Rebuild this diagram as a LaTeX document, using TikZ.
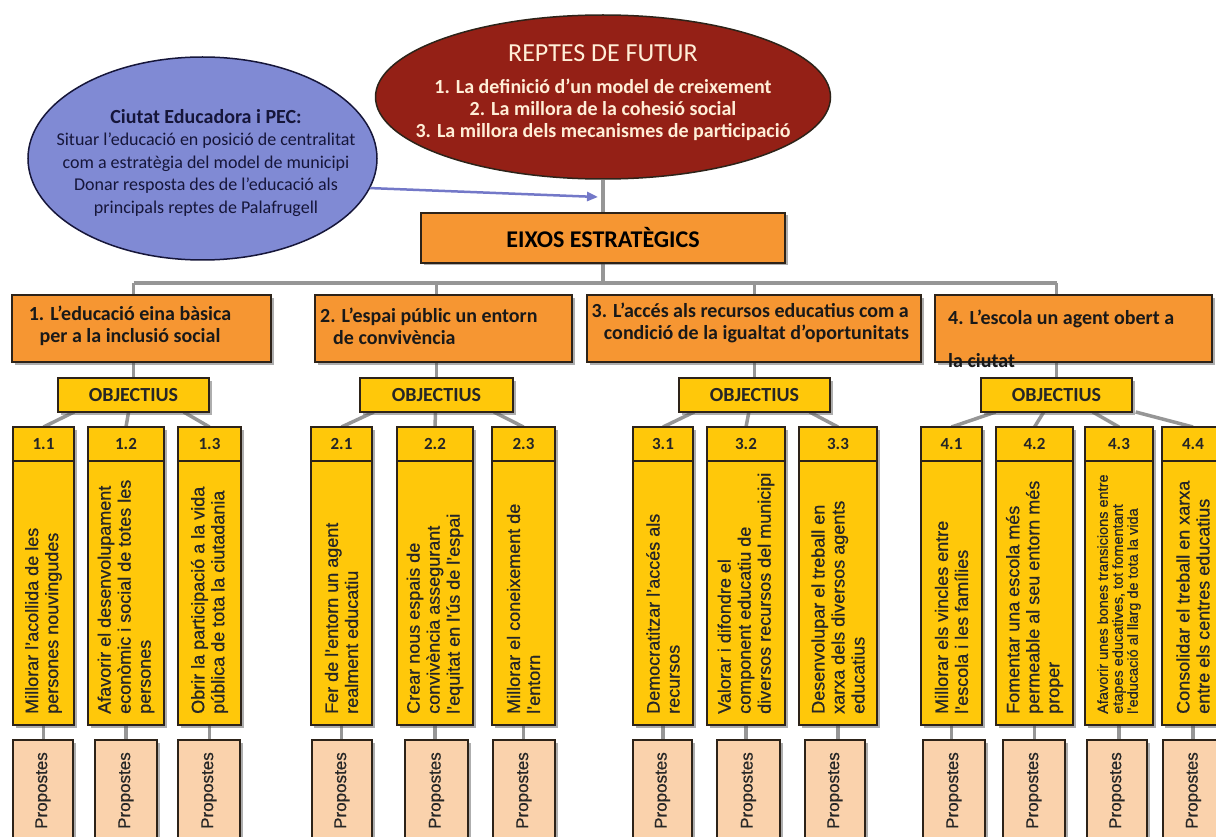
\documentclass[tikz,border=0pt]{standalone}
\usepackage{fontspec}
\setmainfont{Carlito}
\newfontfamily\colfont[FakeBold=0.7]{Liberation Sans}
\usetikzlibrary{shapes.geometric,shadows,arrows.meta,backgrounds,calc}
\definecolor{orng}{RGB}{246,150,50}
\definecolor{yel}{RGB}{255,200,10}
\definecolor{peach}{RGB}{250,210,172}
\definecolor{redE}{RGB}{148,32,22}
\definecolor{blueE}{RGB}{128,138,212}
\definecolor{navy}{RGB}{22,22,58}
\definecolor{edge}{RGB}{45,35,25}
\definecolor{linkg}{RGB}{150,150,150}
\definecolor{arrowc}{RGB}{115,120,200}
\definecolor{redtxt}{RGB}{255,238,215}
\begin{document}
\begin{tikzpicture}[x=1pt,y=-1pt,
 shd/.style={drop shadow={shadow xshift=2.5pt,shadow yshift=-2.5pt,opacity=.45,fill=black!70}},
 rbox/.style={draw=edge,line width=1.5pt,inner sep=0pt,outer sep=0pt,anchor=north west,shd},
 axis/.style={rbox,fill=orng},
 obj/.style={rbox,fill=yel,font=\bfseries\fontsize{20}{20}\selectfont,text=black!85},
 hdr/.style={rbox,fill=yel,font=\bfseries\fontsize{17}{17}\selectfont,text=black!85},
 body/.style={rbox,fill=yel},
 prop/.style={rbox,fill=peach},
 vtxt/.style={rotate=90,anchor=west,align=left,inner sep=0pt,text=black!85,font=\colfont\fontsize{18}{20}\selectfont},
 vsmall/.style={vtxt,font=\colfont\fontsize{14.5}{15}\selectfont},
 ptxt/.style={vtxt,font=\colfont\fontsize{17}{17}\selectfont},
 axtxt/.style={font=\bfseries\fontsize{20}{22}\selectfont,inner sep=0pt,text=black!90},
 link/.style={draw=linkg,line width=3.5pt}]
\useasboundingbox (0,0) rectangle (1216,837);
\begin{pgfonlayer}{background}
\fill[white] (0,0) rectangle (1216,837);
\end{pgfonlayer}
\clip (0,0) rectangle (1216,837);

% ellipses
\node[ellipse,draw=edge,line width=1.5pt,fill=redE,minimum width=455pt,minimum height=164pt,inner sep=0pt] (rep) at (603,97) {};
\node[text=redtxt,inner sep=0pt,font=\fontsize{26}{28}\selectfont] (rtitle) at (603,53) {REPTES DE FUTUR};
\node[text=redtxt,inner sep=0pt,align=center,font=\bfseries\fontsize{20}{22}\selectfont] (ritems) at (603,110) {1. La definició d’un model de creixement\\2. La millora de la cohesió social\\3. La millora dels mecanismes de participació};

\node[ellipse,draw=navy,line width=1.5pt,fill=blueE,minimum width=349pt,minimum height=203pt,inner sep=0pt] (pec) at (202.5,158.5) {};
\node[text=navy,inner sep=0pt,align=center,font=\fontsize{18}{22.5}\selectfont] (pect) at (206,163) {{\bfseries\fontsize{20}{22.5}\selectfont Ciutat Educadora i PEC:}\\Situar l’educació en posició de centralitat\\com a estratègia del model de municipi\\Donar resposta des de l’educació als\\principals reptes de Palafrugell};

% main boxes
\node[axis,minimum width=364pt,minimum height=50pt,font=\bfseries\fontsize{24}{24}\selectfont] (eix) at (421,213) {EIXOS ESTRATÈGICS};
\coordinate (ah) at (598,197);

\node[axis,minimum width=259pt,minimum height=67pt] (a1) at (12,295) {};
\node[axis,minimum width=257pt,minimum height=67pt] (a2) at (315,295) {};
\node[axis,minimum width=334pt,minimum height=67pt] (a3) at (587,295) {};
\node[axis,minimum width=277pt,minimum height=67pt] (a4) at (935,295) {};
\node[axtxt,align=center] (at1) at (130,326) {1. L’educació eina bàsica\\per a la inclusió social};
\node[axtxt,align=left,anchor=west] (at2) at (320,326) {2. L’espai públic un entorn\\\hspace*{13pt}de convivència};
\node[axtxt,align=right,anchor=east] (at3) at (909,323) {3. L’accés als recursos educatius com a\\condició de la igualtat d’oportunitats};
\node[axtxt,align=left,anchor=west] (at4) at (948,338.5) {4. L’escola un agent obert a\\[21pt]la ciutat};

\node[obj,minimum width=151pt,minimum height=34pt] (o1) at (58,378) {OBJECTIUS};
\node[obj,minimum width=153pt,minimum height=34pt] (o2) at (360,378) {OBJECTIUS};
\node[obj,minimum width=151pt,minimum height=34pt] (o3) at (679,378) {OBJECTIUS};
\node[obj,minimum width=151pt,minimum height=34pt] (o4) at (981,378) {OBJECTIUS};

% objective columns
\foreach \id/\num/\xa/\xb/\pa/\pb/\sty/\txt in {
 11/1.1/13/74/13/73/vtxt/{Millorar l’acollida de les\\persones nouvingudes},
 12/1.2/88/164/95/157/vtxt/{Afavorir el desenvolupament\\econòmic i social de totes les\\persones},
 13/1.3/178/241/178/240/vtxt/{Obrir la participació a la vida\\pública de tota la ciutadania},
 21/2.1/311/372/312/372/vtxt/{Fer de l’entorn un agent\\realment educatiu},
 22/2.2/397/473/405/468/vtxt/{Crear nous espais de\\convivència assegurant\\l’equitat en l’ús de l’espai},
 23/2.3/492/555/493/555/vtxt/{Millorar el coneixement de\\l’entorn},
 31/3.1/633/693/633/692/vtxt/{Democratitzar l’accés als\\recursos},
 32/3.2/707/785/717/780/vtxt/{Valorar i difondre el\\component educatiu de\\diversos recursos del municipi},
 33/3.3/799/877/805/865/vtxt/{Desenvolupar el treball en\\xarxa dels diversos agents\\educatius},
 41/4.1/921/982/923/985/vtxt/{Millorar els vincles entre\\l’escola i les famílies},
 42/4.2/996/1073/1003/1065/vtxt/{Fomentar una escola més\\permeable al seu entorn més\\proper},
 43/4.3/1085/1153/1087/1147/vsmall/{Afavorir unes bones transicions entre\\etapes educatives, tot fomentant\\l’educació al llarg de tota la vida},
 44/4.4/1162/1224/1163/1224/vtxt/{Consolidar el treball en xarxa\\entre els centres educatius}}
{
 \pgfmathsetmacro\w{\xb-\xa}
 \pgfmathsetmacro\pw{\pb-\pa}
 \pgfmathsetmacro\pc{(\pa+\pb)/2}
 \node[hdr,minimum width=\w pt,minimum height=34pt] (h\id) at (\xa,427) {\num};
 \node[body,minimum width=\w pt,minimum height=264pt] (b\id) at (\xa,461) {};
 \node[\sty] (t\id) at ([yshift=11pt]b\id.south) {\txt};
 \node[prop,minimum width=\pw pt,minimum height=110pt] (p\id) at (\pa,740) {};
 \node[ptxt] (q\id) at (\pc,829) {Propostes};
}

% connectors (behind)
\begin{pgfonlayer}{background}
\coordinate (j1) at (133.5,283);
\coordinate (j4) at (1056.5,283);
\draw[link] (j1) -- (j4);
\draw[link] (eix.north) -- (eix.north |- rep.south);
\draw[link] (eix.south) -- (eix.south |- j1);
\foreach \k in {1,2,3,4} {\draw[link] (o\k.north |- j1) -- (o\k.north);}
\foreach \g/\f/\lst in {1/0.66/{11,12,13},2/0.66/{21,22,23},3/0.66/{31,32,33},4/0.58/{41,42,43,44}} {
  \foreach \id in \lst {
    \draw[link] ($(o\g.south)!\f!(o\g.south -| h\id.north)$) -- (h\id.north);
    \draw[link] (b\id.south) -- (b\id.south |- p\id.north);
  }
}
\end{pgfonlayer}
\draw[arrowc,line width=2.5pt,-{Triangle[length=11pt,width=9pt]}] (pec.350) -- (ah);
\end{tikzpicture}
\end{document}
